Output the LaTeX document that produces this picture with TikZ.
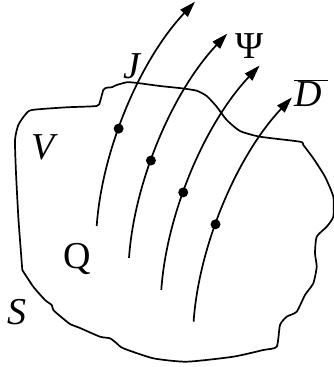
\documentclass[tikz,border=0pt]{standalone}
\usepackage{fontspec}
\setmainfont{Liberation Serif}
\usetikzlibrary{arrows.meta}
\tikzset{
  line/.style={line width=1.7pt},
  flux/.style={line width=1.7pt,-{Triangle[length=16pt,width=10pt]}},
  fdot/.style={circle,fill=black,inner sep=0pt,minimum size=10pt},
  lab/.style={inner sep=0pt,font=\fontsize{38}{40}\selectfont},
}
\begin{document}
\begin{tikzpicture}[x=1pt,y=-1pt]
\useasboundingbox (0,0) rectangle (334,367);
% boundary surface S
\draw[line,line join=round] plot[smooth,tension=0.35] coordinates {
 (22.3,270) (20,240) (18.3,216.7) (16,173) (15,140) (18.3,125) (25,115) (31.7,110)
 (66.7,107.3) (96.7,106) (100,101.7) (103.3,90) (106.7,87.7) (111.7,87.3) (116.7,85)
 (126.7,82.3) (135,82.7) (160,86) (181.7,88.3) (196.7,90.7) (206.7,96) (216.7,106.7)
 (226.7,120) (240,131) (260,136.7) (300,141.7) (303.3,145) (313.3,158.3) (325,176.7)
 (333.3,196.7) (333.3,216.7) (326.7,226.7) (316.7,236.7) (315,253.3) (316.7,266.7)
 (313.3,283.3) (305,295) (296.7,311.7) (286.7,316.7) (280,325) (276.7,346.7)
 (263.3,350) (233.3,356.7) (186.7,361.7) (153.3,358.3) (123.3,348.3) (116.7,343.3)
 (110,338.3) (100,336.7) (80,328) (70,324) (60,316) (53.3,310) (51.7,305) (45,300)
 (33.3,286.7) (22.3,270)};
% flux lines
\foreach \i in {0,1,2,3}{
  \begin{scope}[shift={(32.3*\i,31.9*\i)}]
    \coordinate (s\i) at (96.7,226);
    \coordinate (e\i) at (195,1.7);
    \draw[flux] (s\i) .. controls (102,150) and (140,60) .. (e\i)
      node[pos=0.41,fdot] (d\i) {};
  \end{scope}
}
% labels
\node[lab] (J) at (131.7,66) {\itshape J};
\node[lab] (Psi) at (250,46) {Ψ};
\node[lab] (D) at (311,93) {$\overline{\mbox{\itshape D\,}}$};
\node[lab] (V) at (43,147) {\itshape V};
\node[lab] (Q) at (77.5,259) {Q};
\node[lab] (S) at (17,312) {\itshape S};
\end{tikzpicture}
\end{document}
